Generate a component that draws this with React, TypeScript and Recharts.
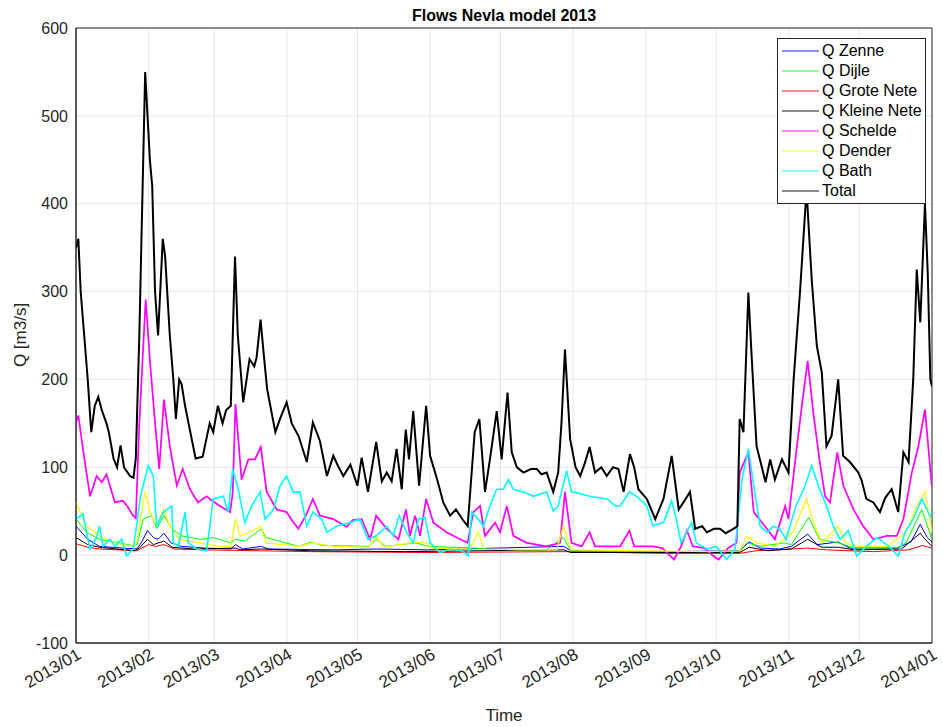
import { LineChart, Line, XAxis, YAxis, CartesianGrid, Legend, ReferenceArea } from 'recharts';

// day of year (0 = 2013/01/01), flow in m3/s
const monthTicks = [0, 31, 59, 90, 120, 151, 181, 212, 243, 273, 304, 334, 365];
const monthLabels = [
  '2013/01', '2013/02', '2013/03', '2013/04', '2013/05', '2013/06', '2013/07',
  '2013/08', '2013/09', '2013/10', '2013/11', '2013/12', '2014/01',
];
const qTicks = [-100, 0, 100, 200, 300, 400, 500, 600];

const zenne: [number, number][] = [
  [0, 33], [5, 18], [10, 10], [20, 8], [26, 7], [28, 15], [30.5, 28], [33, 20], [35, 18], [37.5, 25],
  [40.5, 14], [45, 10], [55, 8], [66, 7], [68, 12], [71, 7], [79, 10], [82, 7], [110, 6], [128, 7],
  [150, 6], [208, 10], [211, 5], [250, 4], [283, 5], [287, 15], [292, 8], [300, 7], [305, 10], [312, 24],
  [316, 12], [325, 15], [330, 8], [350, 8], [356, 15], [360, 35], [363, 20], [365, 15],
];

const dijle: [number, number][] = [
  [0, 41], [4.5, 26], [10, 18], [24, 11], [26, 12], [28.7, 41], [32.3, 45], [34.4, 30], [37.5, 45], [40.8, 30],
  [45, 22], [53, 18], [58.5, 20], [66, 14], [68, 18], [72, 16], [79, 30], [81, 20], [95, 10], [100.4, 15],
  [105, 11], [125, 10], [128, 18], [132, 10], [145, 14], [150, 10], [170, 8], [180, 6], [200, 5], [207.8, 20],
  [211, 5], [240, 4], [270, 3], [283, 4], [286, 14], [292, 10], [302, 14], [305, 12], [312.5, 43], [317, 18],
  [325, 14], [332, 8], [350, 8], [354, 14], [360.6, 52], [365, 18],
];

const groteNete: [number, number][] = [
  [0, 13], [5, 9], [10, 7], [26, 5], [28, 8], [31, 12], [34, 10], [37.5, 12], [42, 7], [55, 6],
  [100, 4], [150, 3], [208, 4], [250, 2], [283, 2], [290, 5], [312, 8], [320, 6], [340, 4], [355, 6],
  [361, 11], [365, 8],
];

const kleineNete: [number, number][] = [
  [0, 20], [5, 12], [10, 9], [25, 5], [27, 8], [30.5, 18], [33, 12], [37.5, 16], [41, 9], [50, 7],
  [68, 8], [70, 6], [79, 7], [100, 5], [140, 4], [208, 6], [211, 3], [283, 3], [287, 9], [295, 5],
  [305, 7], [312, 18], [318, 9], [325, 9], [332, 6], [352, 7], [360, 25], [362, 18], [365, 10],
];

const schelde: [number, number][] = [
  [0, 151], [1, 159], [3, 120], [6, 67], [8.8, 90], [11, 83], [13, 92], [16.6, 60], [20, 62], [22, 55],
  [24.4, 45], [25.5, 42], [27, 150], [29.7, 291], [31.6, 219], [33.7, 151], [35.5, 98], [37.5, 177], [40, 124], [43, 79],
  [45.5, 98], [48.6, 75], [52, 60], [55.7, 67], [58, 62], [61.4, 56], [65.7, 49], [66.8, 70], [68, 172], [70.6, 86],
  [73.5, 109], [76.3, 109], [78.8, 123], [81.3, 72], [85.6, 52], [89.8, 49], [92, 40], [94.8, 30], [98, 45], [101, 64],
  [104, 45], [109.7, 41], [115.4, 32], [118, 40], [121.8, 41], [125.4, 18], [128, 45], [132.5, 30], [137.5, 18], [140.7, 52],
  [142.4, 22], [144.6, 45], [146.7, 22], [149.3, 64], [152.4, 37], [158, 26], [163.8, 18], [167, 14], [169.4, 49], [172.3, 56],
  [174.4, 22], [178.7, 37], [180.8, 26], [183.7, 56], [186.5, 22], [192.2, 14], [200.7, 10], [206.4, 14], [208.5, 72], [211.3, 14],
  [215.6, 10], [219, 26], [221.3, 10], [226, 10], [232, 10], [236, 28], [238, 10], [246, 10], [250, 8], [255, -5],
  [258, 10], [260.5, 28], [263, 10], [268, 8], [271.8, -1], [274, -5], [278, 8], [281.7, 14], [283, 94], [286.7, 117],
  [289, 49], [294.6, 30], [298, 18], [302.4, 56], [303.8, 41], [306.6, 106], [309.5, 170], [312, 221], [314.4, 162], [317, 109],
  [319.4, 67], [321.5, 60], [324.6, 117], [327.2, 79], [331.5, 52], [335.7, 33], [340, 18], [345.8, 22], [350, 22], [352.8, 41],
  [356.4, 94], [359.2, 124], [362, 166], [364.9, 79],
];

const dender: [number, number][] = [
  [0, 60], [4.5, 33], [10, 22], [16, 14], [24.4, 10], [26, 15], [29.4, 72], [31.5, 49], [34.4, 33], [37.3, 52],
  [40, 33], [44, 18], [53, 14], [61, 10], [66, 10], [68, 41], [70, 22], [74, 26], [78.8, 33], [81, 14],
  [95, 10], [101, 14], [110, 10], [125, 9], [128, 22], [131, 9], [145, 15], [149, 14], [152, 8], [168, 7],
  [171.5, 26], [174, 7], [190, 6], [205, 6], [207.8, 33], [211, 6], [240, 5], [270, 4], [283, 5], [286, 22],
  [290, 14], [298, 10], [305.7, 26], [311.5, 64], [314, 41], [318, 14], [325, 33], [328, 14], [333, 10], [346, 10],
  [354, 26], [358.5, 56], [362, 72], [365, 26],
];

const bath: [number, number][] = [
  [0, 41], [3, 47], [4.5, 26], [6, 7], [8.8, 20], [10, 33], [11.5, 10], [14.3, 18], [16.6, 10], [19.5, 18],
  [21.6, -1], [24.4, 7], [26, 37], [27.5, 67], [30.8, 102], [33, 90], [34.4, 33], [37.3, 49], [40.8, 56], [41.5, 14],
  [43.7, 10], [46.5, 49], [47.9, 14], [51.5, 7], [55.7, 5], [58.5, 64], [62.8, 67], [64.9, 49], [66.8, 98], [69.2, 75],
  [72, 37], [74.9, 56], [78.5, 72], [80.6, 41], [84.2, 52], [87, 79], [89.8, 90], [92.6, 72], [95.5, 72], [98.4, 33],
  [101, 49], [104.8, 41], [107, 26], [111, 33], [116.8, 37], [121, 41], [124.5, 18], [128, 22], [132.5, 33], [135.3, 22],
  [137.8, 45], [141, 26], [143.8, 14], [146, 41], [148.8, 43], [151, 14], [155.2, 3], [159.5, 7], [164.5, 5], [167.3, -1],
  [168.7, 49], [171.5, 41], [173.7, 33], [176.5, 56], [179.4, 75], [182.2, 75], [184.4, 86], [186.5, 75], [190.8, 72], [195, 67],
  [200.7, 72], [203.5, 50], [205.6, 56], [209.2, 96], [211.3, 72], [215, 70], [219, 67], [226.4, 64], [230, 56], [232, 56],
  [236, 72], [239, 67], [243.4, 56], [246, 33], [247.6, 35], [250.5, 37], [254, 62], [256, 41], [258, 14], [262.5, 37],
  [264.5, 14], [269, 7], [273, 10], [277.4, -5], [281, 7], [284, 86], [286.7, 121], [289, 79], [291.7, 33], [294.6, 26],
  [297.3, 33], [300, 30], [302.8, 18], [307, 56], [310.9, 79], [313.7, 102], [316.5, 79], [320, 56], [322.9, 33], [325.8, 18],
  [329.3, 28], [332.9, -1], [337, 10], [341.6, 20], [347, 9], [350.6, -1], [353.5, 26], [357, 41], [360.6, 64], [363.4, 49],
  [365, 41],
];

const total: [number, number][] = [
  [0, 350], [1, 360], [2, 300], [3.5, 250], [5, 200], [6.5, 140], [8, 170], [9.5, 180], [11, 165], [13, 150],
  [14, 140], [16, 110], [17.5, 100], [19, 125], [20.5, 100], [23, 90], [24.5, 88], [25.5, 110], [27, 250], [29.5, 550],
  [30.5, 500], [31.5, 450], [32.5, 420], [33.7, 300], [35, 250], [37, 360], [38, 340], [40, 250], [41.5, 200], [42.6, 155],
  [44, 200], [45, 195], [46.5, 170], [48, 150], [51, 110], [54, 112], [57, 150], [58.5, 140], [60.5, 170], [62.5, 150],
  [64, 165], [66, 170], [67.8, 340], [69, 250], [71.3, 174], [74, 223], [76, 215], [77, 225], [78.7, 268], [80, 230],
  [81.5, 189], [85, 140], [87, 155], [89.8, 174], [92, 150], [95, 135], [98.4, 106], [101, 151], [104, 130], [107, 90],
  [109.7, 113], [112, 100], [114, 90], [117, 103], [120, 79], [121.8, 111], [124.5, 72], [128, 129], [130.4, 84], [132.5, 94],
  [134.6, 84], [136.7, 121], [138.9, 75], [140.6, 143], [142, 109], [143.8, 164], [146.3, 79], [149.3, 170], [151, 113], [154, 86],
  [156.6, 60], [159.5, 45], [162, 52], [165, 40], [167, 33], [170, 140], [172, 155], [174.4, 72], [176.5, 109], [179.4, 164],
  [181.5, 109], [184, 185], [185.8, 117], [188, 100], [190.8, 94], [194, 98], [196.5, 98], [198.5, 92], [200.7, 94], [203.5, 72],
  [205.6, 94], [207, 150], [208.5, 234], [210.7, 132], [213, 100], [215, 90], [217, 105], [219, 123], [221.3, 94], [224, 100],
  [226.3, 90], [229, 100], [231.3, 98], [233.5, 72], [236.2, 115], [238, 100], [239.8, 75], [243.4, 64], [247, 41], [250.5, 64],
  [254, 113], [257, 52], [259, 60], [261.8, 72], [264, 30], [267, 33], [269, 26], [272, 30], [274.6, 30], [277, 25],
  [280.3, 30], [282, 33], [283, 155], [284.6, 140], [286.7, 299], [288, 231], [290.2, 124], [292, 105], [294, 83], [296, 109],
  [298, 86], [301, 109], [303.8, 94], [306, 200], [308.7, 299], [311.5, 416], [313.7, 314], [315.9, 238], [318, 208], [320, 124],
  [322.2, 136], [325, 200], [327.1, 113], [330, 106], [333.6, 94], [335, 85], [337, 64], [340, 60], [342.8, 49], [345, 65],
  [347.8, 75], [350.6, 49], [352.8, 117], [355, 106], [357, 200], [358.5, 325], [360, 265], [362, 400], [363.2, 320], [364.3, 200],
  [365, 192],
];

const font = '"Liberation Sans", Arial, Helvetica, sans-serif';
const ink = '#262626';

const series = [
  { name: 'Q Zenne', color: '#0000ff', width: 1, pts: zenne },
  { name: 'Q Dijle', color: '#00ff00', width: 1, pts: dijle },
  { name: 'Q Grote Nete', color: '#ff0000', width: 1, pts: groteNete },
  { name: 'Q Kleine Nete', color: '#000000', width: 1, pts: kleineNete },
  { name: 'Q Schelde', color: '#ff00ff', width: 1.7, pts: schelde },
  { name: 'Q Dender', color: '#ffff00', width: 1.2, pts: dender },
  { name: 'Q Bath', color: '#00ffff', width: 1.6, pts: bath },
  { name: 'Total', color: '#000000', width: 2, pts: total },
];

const DateTick = ({ x, y, payload }: any) => {
  const i = monthTicks.indexOf(payload.value);
  return (
    <g transform={`translate(${x},${y})`}>
      <text x={2} y={9} textAnchor="end" transform="rotate(-30)" fontSize={17} fill={ink} fontFamily={font}>
        {monthLabels[i]}
      </text>
    </g>
  );
};

const LegendBox = () => (
  <div
    style={{
      border: '1px solid #262626',
      background: '#fff',
      padding: '2px 3px 2px 4px',
      fontFamily: font,
      fontSize: 16,
      lineHeight: '20px',
      color: '#000',
    }}
  >
    {series.map((s) => (
      <div key={s.name} style={{ display: 'flex', alignItems: 'center', height: 20 }}>
        <div style={{ width: 37, height: 2, background: s.color, opacity: 0.45 }} />
        <span style={{ marginLeft: 3, whiteSpace: 'nowrap' }}>{s.name}</span>
      </div>
    ))}
  </div>
);

export default function App() {
  return (
    <div style={{ position: 'absolute', left: 0, top: 0, width: 943, height: 727, background: '#fff' }}>
      <div
        style={{
          position: 'absolute',
          left: 76,
          top: 6,
          width: 856,
          textAlign: 'center',
          fontFamily: font,
          fontSize: 16,
          fontWeight: 'bold',
          lineHeight: '20px',
          color: '#000',
        }}
      >
        Flows Nevla model 2013
      </div>
      <LineChart width={943} height={727} margin={{ top: 28, right: 11, bottom: 0, left: 0 }}>
        <CartesianGrid stroke="#e6e6e6" />
        <XAxis
          dataKey="t"
          type="number"
          domain={[0, 365]}
          ticks={monthTicks}
          interval={0}
          height={84}
          tickLine={false}
          axisLine={{ stroke: ink }}
          tick={<DateTick />}
          allowDataOverflow
          label={{
            value: 'Time',
            position: 'insideBottom',
            offset: 6,
            style: { fontSize: 17, fill: ink, fontFamily: font },
          }}
        />
        <YAxis
          type="number"
          domain={[-100, 600]}
          ticks={qTicks}
          width={76}
          tickLine={false}
          axisLine={{ stroke: ink }}
          tick={{ fontSize: 16, fill: ink, fontFamily: font }}
          label={{
            content: () => (
              <text x={26} y={335} transform="rotate(-90 26 335)" textAnchor="middle" fontSize={17} fill={ink} fontFamily={font}>
                Q [m3/s]
              </text>
            ),
          }}
        />
        <ReferenceArea x1={0} x2={365} y1={-100} y2={600} fill="none" stroke={ink} strokeWidth={1} ifOverflow="visible" />
        <Legend
          layout="vertical"
          align="center"
          verticalAlign="middle"
          content={<LegendBox />}
          wrapperStyle={{ top: 38, left: 777, width: 'auto', height: 'auto' }}
        />
        {series.map((s) => (
          <Line
            key={s.name}
            name={s.name}
            data={s.pts.map(([t, q]) => ({ t, q }))}
            dataKey="q"
            type="linear"
            stroke={s.color}
            strokeWidth={s.width}
            dot={false}
            activeDot={false}
            isAnimationActive={false}
          />
        ))}
      </LineChart>
    </div>
  );
}
